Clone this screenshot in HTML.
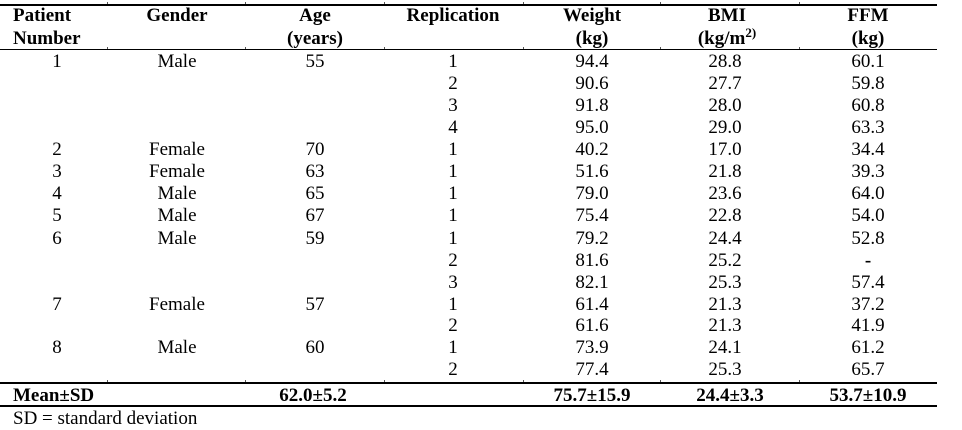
<!DOCTYPE html>
<html>
<head>
<meta charset="utf-8">
<style>
html,body{margin:0;padding:0;background:#fff;}
body{width:962px;height:427px;position:relative;overflow:hidden;font-family:"Liberation Serif","Times New Roman",serif;color:#000;}
.t{position:absolute;font-size:19px;line-height:22px;white-space:nowrap;transform:translateX(-50%);}
.l{position:absolute;font-size:19px;line-height:22px;white-space:nowrap;}
.b{font-weight:bold;}
.hr{position:absolute;left:0;width:937px;height:1.6px;background:#000;}
.tk{position:absolute;width:1px;height:2px;background:#555;}
sup{font-size:13px;line-height:0;vertical-align:7px;}
</style>
</head>
<body>
<div class="hr" style="top:4px"></div>
<div class="hr" style="top:48.5px"></div>
<div class="hr" style="top:382px"></div>
<div class="hr" style="top:405px"></div>

<div class="tk" style="left:107px;top:2px"></div>
<div class="tk" style="left:245px;top:2px"></div>
<div class="tk" style="left:384px;top:2px"></div>
<div class="tk" style="left:523px;top:2px"></div>
<div class="tk" style="left:660px;top:2px"></div>
<div class="tk" style="left:799px;top:2px"></div>
<div class="tk" style="left:107px;top:47px"></div>
<div class="tk" style="left:245px;top:47px"></div>
<div class="tk" style="left:384px;top:47px"></div>
<div class="tk" style="left:523px;top:47px"></div>
<div class="tk" style="left:660px;top:47px"></div>
<div class="tk" style="left:799px;top:47px"></div>
<div class="tk" style="left:107px;top:380px"></div>
<div class="tk" style="left:245px;top:380px"></div>
<div class="tk" style="left:384px;top:380px"></div>
<div class="tk" style="left:523px;top:380px"></div>
<div class="tk" style="left:660px;top:380px"></div>
<div class="tk" style="left:799px;top:380px"></div>

<!-- header -->
<div class="l b" style="left:13px;top:5px">Patient</div>
<div class="l b" style="left:13px;top:28px">Number</div>
<div class="t b" style="left:177px;top:5px">Gender</div>
<div class="t b" style="left:315px;top:5px">Age</div>
<div class="t b" style="left:315px;top:28px">(years)</div>
<div class="t b" style="left:453px;top:5px">Replication</div>
<div class="t b" style="left:592px;top:5px">Weight</div>
<div class="t b" style="left:592px;top:28px">(kg)</div>
<div class="t b" style="left:727px;top:5px">BMI</div>
<div class="t b" style="left:727px;top:28px">(kg/m<sup>2)</sup></div>
<div class="t b" style="left:868px;top:5px">FFM</div>
<div class="t b" style="left:868px;top:28px">(kg)</div>

<!-- rows -->
<div class="t" style="left:57px;top:51px">1</div>
<div class="t" style="left:177px;top:51px">Male</div>
<div class="t" style="left:315px;top:51px">55</div>
<div class="t" style="left:453px;top:51px">1</div>
<div class="t" style="left:592px;top:51px">94.4</div>
<div class="t" style="left:725px;top:51px">28.8</div>
<div class="t" style="left:868px;top:51px">60.1</div>

<div class="t" style="left:453px;top:73px">2</div>
<div class="t" style="left:592px;top:73px">90.6</div>
<div class="t" style="left:725px;top:73px">27.7</div>
<div class="t" style="left:868px;top:73px">59.8</div>

<div class="t" style="left:453px;top:95px">3</div>
<div class="t" style="left:592px;top:95px">91.8</div>
<div class="t" style="left:725px;top:95px">28.0</div>
<div class="t" style="left:868px;top:95px">60.8</div>

<div class="t" style="left:453px;top:117px">4</div>
<div class="t" style="left:592px;top:117px">95.0</div>
<div class="t" style="left:725px;top:117px">29.0</div>
<div class="t" style="left:868px;top:117px">63.3</div>

<div class="t" style="left:57px;top:139px">2</div>
<div class="t" style="left:177px;top:139px">Female</div>
<div class="t" style="left:315px;top:139px">70</div>
<div class="t" style="left:453px;top:139px">1</div>
<div class="t" style="left:592px;top:139px">40.2</div>
<div class="t" style="left:725px;top:139px">17.0</div>
<div class="t" style="left:868px;top:139px">34.4</div>

<div class="t" style="left:57px;top:161px">3</div>
<div class="t" style="left:177px;top:161px">Female</div>
<div class="t" style="left:315px;top:161px">63</div>
<div class="t" style="left:453px;top:161px">1</div>
<div class="t" style="left:592px;top:161px">51.6</div>
<div class="t" style="left:725px;top:161px">21.8</div>
<div class="t" style="left:868px;top:161px">39.3</div>

<div class="t" style="left:57px;top:183px">4</div>
<div class="t" style="left:177px;top:183px">Male</div>
<div class="t" style="left:315px;top:183px">65</div>
<div class="t" style="left:453px;top:183px">1</div>
<div class="t" style="left:592px;top:183px">79.0</div>
<div class="t" style="left:725px;top:183px">23.6</div>
<div class="t" style="left:868px;top:183px">64.0</div>

<div class="t" style="left:57px;top:205px">5</div>
<div class="t" style="left:177px;top:205px">Male</div>
<div class="t" style="left:315px;top:205px">67</div>
<div class="t" style="left:453px;top:205px">1</div>
<div class="t" style="left:592px;top:205px">75.4</div>
<div class="t" style="left:725px;top:205px">22.8</div>
<div class="t" style="left:868px;top:205px">54.0</div>

<div class="t" style="left:57px;top:228px">6</div>
<div class="t" style="left:177px;top:228px">Male</div>
<div class="t" style="left:315px;top:228px">59</div>
<div class="t" style="left:453px;top:228px">1</div>
<div class="t" style="left:592px;top:228px">79.2</div>
<div class="t" style="left:725px;top:228px">24.4</div>
<div class="t" style="left:868px;top:228px">52.8</div>

<div class="t" style="left:453px;top:250px">2</div>
<div class="t" style="left:592px;top:250px">81.6</div>
<div class="t" style="left:725px;top:250px">25.2</div>
<div class="t b" style="left:868px;top:250px">-</div>

<div class="t" style="left:453px;top:272px">3</div>
<div class="t" style="left:592px;top:272px">82.1</div>
<div class="t" style="left:725px;top:272px">25.3</div>
<div class="t" style="left:868px;top:272px">57.4</div>

<div class="t" style="left:57px;top:294px">7</div>
<div class="t" style="left:177px;top:294px">Female</div>
<div class="t" style="left:315px;top:294px">57</div>
<div class="t" style="left:453px;top:294px">1</div>
<div class="t" style="left:592px;top:294px">61.4</div>
<div class="t" style="left:725px;top:294px">21.3</div>
<div class="t" style="left:868px;top:294px">37.2</div>

<div class="t" style="left:453px;top:315px">2</div>
<div class="t" style="left:592px;top:315px">61.6</div>
<div class="t" style="left:725px;top:315px">21.3</div>
<div class="t" style="left:868px;top:315px">41.9</div>

<div class="t" style="left:57px;top:337px">8</div>
<div class="t" style="left:177px;top:337px">Male</div>
<div class="t" style="left:315px;top:337px">60</div>
<div class="t" style="left:453px;top:337px">1</div>
<div class="t" style="left:592px;top:337px">73.9</div>
<div class="t" style="left:725px;top:337px">24.1</div>
<div class="t" style="left:868px;top:337px">61.2</div>

<div class="t" style="left:453px;top:359px">2</div>
<div class="t" style="left:592px;top:359px">77.4</div>
<div class="t" style="left:725px;top:359px">25.3</div>
<div class="t" style="left:868px;top:359px">65.7</div>

<!-- mean -->
<div class="l b" style="left:13px;top:385px">Mean±SD</div>
<div class="t b" style="left:313px;top:385px">62.0±5.2</div>
<div class="t b" style="left:592px;top:385px">75.7±15.9</div>
<div class="t b" style="left:730px;top:385px">24.4±3.3</div>
<div class="t b" style="left:868px;top:385px">53.7±10.9</div>

<div class="l" style="left:13px;top:408px">SD = standard deviation</div>
</body>
</html>
